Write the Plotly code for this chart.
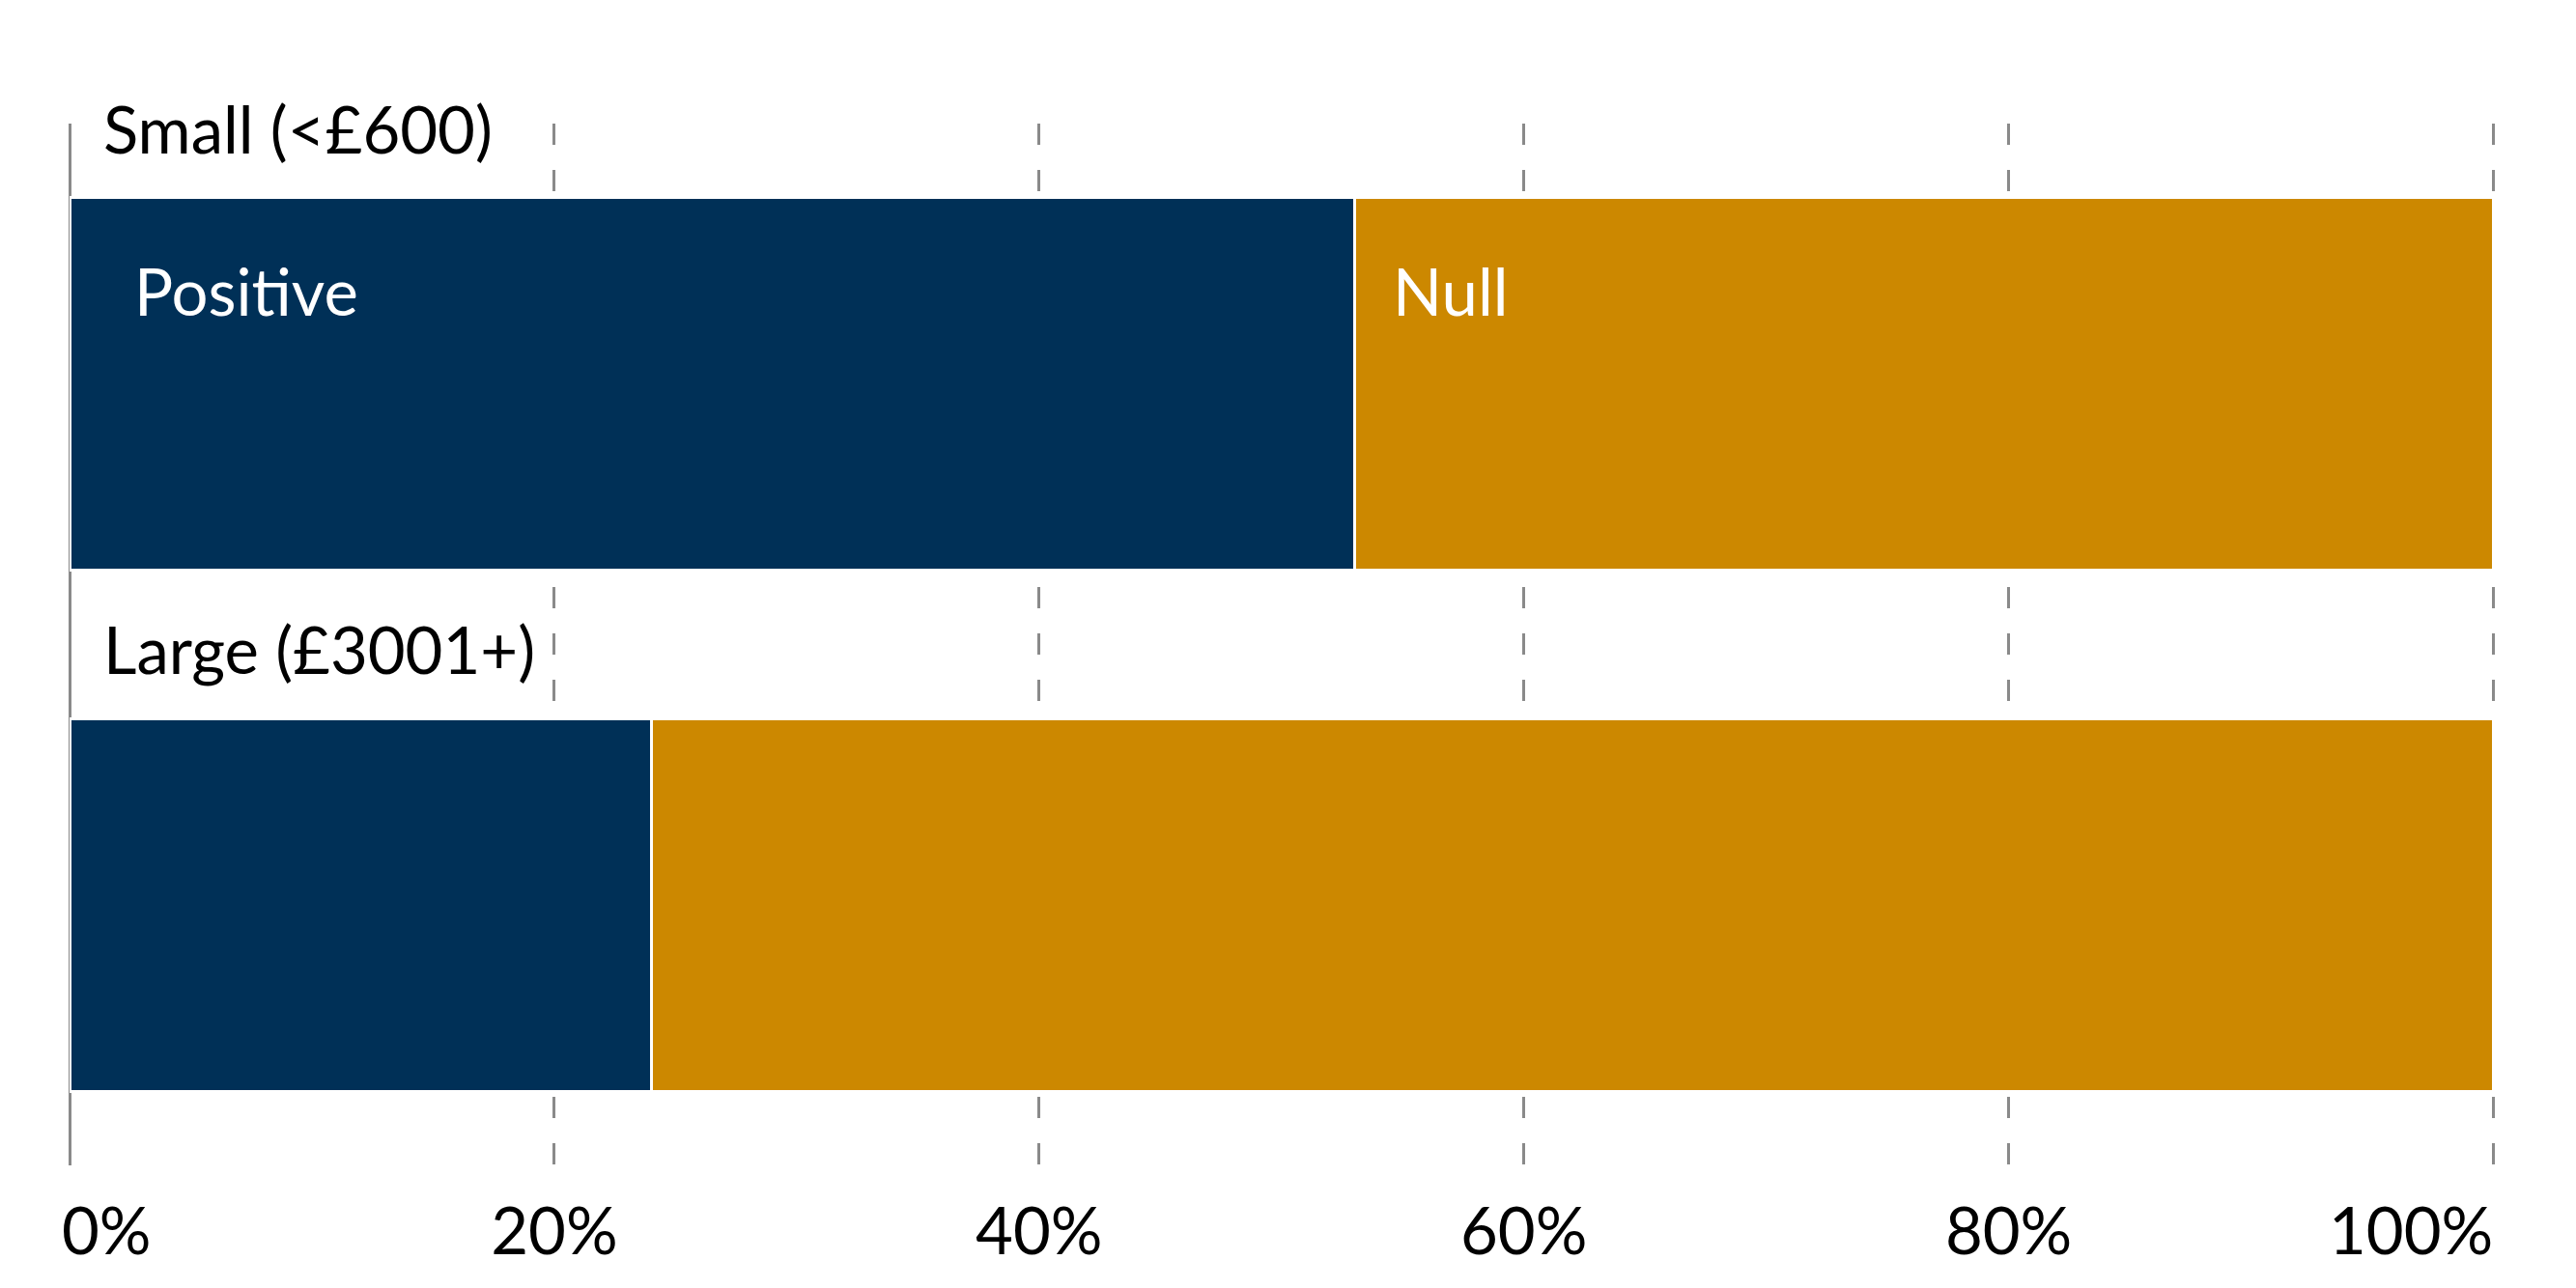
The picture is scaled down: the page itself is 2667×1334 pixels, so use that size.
import plotly.graph_objects as go

categories = ["Small (<£600)", "Large (£3001+)"]
series_names = ["Positive", "Null"]
positive = [53, 24]
null = [47, 76]
tick_vals = [0, 20, 40, 60, 80, 100]
tick_labels = ["0%", "20%", "40%", "60%", "80%", "100%"]

NAVY = "#003057"
ORANGE = "#CC8800"
GRID = "#8a8a8a"
FONT = "Lato"
FS = 67

fig = go.Figure()
fig.add_trace(go.Bar(
    y=categories, x=positive, name=series_names[0], orientation="h",
    marker=dict(color=NAVY, line=dict(color="white", width=3)), width=0.716,
    hoverinfo="skip",
))
fig.add_trace(go.Bar(
    y=categories, x=null, name=series_names[1], orientation="h",
    marker=dict(color=ORANGE, line=dict(color="white", width=3)), width=0.716,
    hoverinfo="skip",
))

annotations = []
for c in categories:
    annotations.append(dict(
        x=0, y=c, xref="x", yref="y", text=c, showarrow=False,
        xanchor="left", yanchor="middle", xshift=33, yshift=265,
        font=dict(family=FONT, size=FS, color="black"),
    ))
annotations.append(dict(
    x=0, y=categories[0], xref="x", yref="y", text=series_names[0], showarrow=False,
    xanchor="left", yanchor="middle", xshift=65, yshift=97,
    font=dict(family=FONT, size=FS, color="white"),
))
annotations.append(dict(
    x=positive[0], y=categories[0], xref="x", yref="y", text=series_names[1], showarrow=False,
    xanchor="left", yanchor="middle", xshift=38, yshift=97,
    font=dict(family=FONT, size=FS, color="white"),
))
annotations.append(dict(
    x=tick_vals[0], y=0, xref="x", yref="paper", text=tick_labels[0], showarrow=False,
    xanchor="left", yanchor="top", xshift=-10, yshift=-24,
    font=dict(family=FONT, size=FS, color="black"),
))
annotations.append(dict(
    x=tick_vals[-1], y=0, xref="x", yref="paper", text=tick_labels[-1], showarrow=False,
    xanchor="right", yanchor="top", xshift=2, yshift=-24,
    font=dict(family=FONT, size=FS, color="black"),
))

fig.update_layout(
    width=2667, height=1334,
    barmode="stack",
    showlegend=False,
    plot_bgcolor="white", paper_bgcolor="white",
    margin=dict(l=72, r=83, t=128, b=127),
    font=dict(family=FONT, size=FS, color="black"),
    annotations=annotations,
    xaxis=dict(
        range=[0, 100.1], tickvals=tick_vals,
        ticktext=[""] + tick_labels[1:-1] + [""],
        showgrid=True, gridcolor=GRID, gridwidth=3, griddash="22px,26px",
        zeroline=True, zerolinecolor=GRID, zerolinewidth=3,
        showline=False, ticks="", ticklabelstandoff=24,
        tickfont=dict(family=FONT, size=FS, color="black"),
        fixedrange=True,
    ),
    yaxis=dict(
        categoryorder="array", categoryarray=categories, range=[1.5, -0.5],
        showticklabels=False, showgrid=False, zeroline=False, showline=False,
        ticks="", fixedrange=True,
    ),
)

fig.write_html("out.html", config={"displayModeBar": False},
               post_script="document.body.style.margin='0';")
